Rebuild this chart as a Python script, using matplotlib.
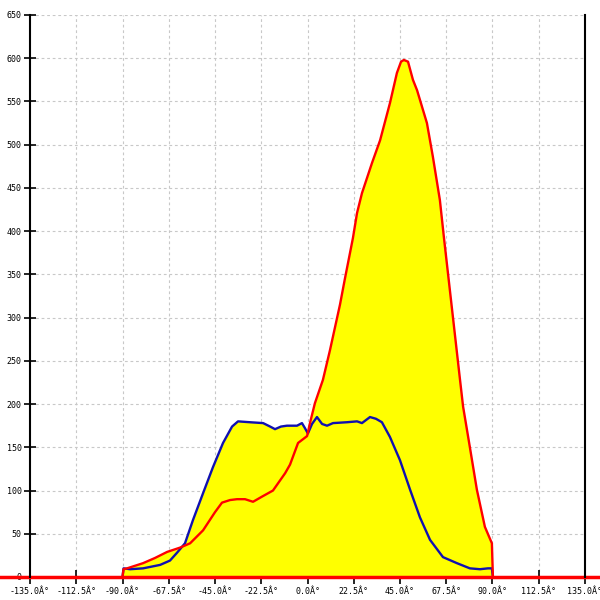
import numpy as np
import matplotlib
matplotlib.use("Agg")
import matplotlib.pyplot as plt

# angle (deg) and intensity
red_angle = [-90.0, -89.5, -87.8, -80.0, -74.2, -68.3, -62.0, -57.1, -50.8, -45.0,
             -41.6, -37.7, -34.3, -30.4, -26.5, -22.1, -16.8, -10.9, -8.5, -4.6,
             -0.2, 1.2, 3.6, 7.5, 10.9, 15.8, 18.2, 22.1, 24.1, 26.5,
             31.4, 35.3, 40.1, 43.5, 45.5, 46.9, 48.9, 51.3, 53.3, 58.1,
             61.0, 64.4, 66.4, 70.3, 74.2, 75.7, 79.0, 82.4, 86.3, 89.7, 90.2]
red_value = [0, 9, 10, 16, 22, 29, 34, 39, 54, 75,
             86, 89, 90, 90, 87, 93, 100, 120, 130, 155,
             163, 178, 201, 228, 262, 315, 345, 392, 421, 444,
             479, 505, 548, 583, 596, 598, 596, 575, 563, 525,
             486, 436, 392, 310, 228, 197, 150, 101, 58, 39, 0]

blue_angle = [-90.0, -89.5, -86.3, -80.0, -71.7, -66.9, -63.5, -59.6, -55.7, -50.8,
              -46.0, -41.1, -36.7, -33.8, -28.0, -21.6, -18.2, -15.8, -12.9, -10.0,
              -5.1, -2.7, -1.2, 0.2, 2.2, 4.6, 7.1, 9.5, 12.4, 19.2,
              24.1, 26.5, 30.4, 33.3, 36.2, 40.1, 45.0, 49.9, 54.7, 59.6,
              65.9, 72.7, 79.0, 83.9, 87.8, 89.7, 90.2]
blue_value = [0, 10, 9, 10, 14, 19, 28, 39, 66, 97,
              127, 155, 174, 180, 179, 178, 174, 171, 174, 175,
              175, 178, 172, 166, 177, 185, 177, 175, 178, 179,
              180, 178, 185, 183, 179, 162, 135, 101, 69, 43,
              23, 16, 10, 9, 10, 10, 0]

x_ticks = np.arange(-135, 135.1, 22.5)
y_ticks = np.arange(0, 651, 50)

fig = plt.figure(figsize=(6, 6), dpi=100)
ax = fig.add_axes([0, 23 / 600, 1, 562 / 600])
ax.set_xlim(-149.6, 142.3)
ax.set_ylim(0, 650)

# dashed grid only between the two axis lines
ax.hlines(y_ticks[1:], -135, 135, colors="#c8c8c8", linestyles=(0, (2.5, 2.5)), lw=0.8, zorder=1)
ax.vlines(x_ticks[1:-1], 0, 650, colors="#c8c8c8", linestyles=(0, (2.5, 2.5)), lw=0.8, zorder=1)

# yellow area under the higher of the two curves
grid_x = np.union1d(red_angle, blue_angle)
top = np.maximum(np.interp(grid_x, red_angle, red_value), np.interp(grid_x, blue_angle, blue_value))
ax.fill_between(grid_x, 0, top, color="#ffff00", lw=0, zorder=2)

ax.plot(blue_angle, blue_value, color="#1010b0", lw=1.7, zorder=3)
ax.axhline(0, color="#ff0000", lw=2.5, zorder=4, clip_on=False)
ax.plot(red_angle, red_value, color="#ff0000", lw=1.7, zorder=4)

for s in ["top", "bottom"]:
    ax.spines[s].set_visible(False)
ax.spines["left"].set_position(("data", -135))
ax.spines["right"].set_position(("data", 135))
for s in ["left", "right"]:
    ax.spines[s].set_linewidth(1.5)
    ax.spines[s].set_zorder(5)

ax.set_xticks(x_ticks)
ax.set_xticklabels([f"{v:.1f}Â°" for v in x_ticks], family="DejaVu Sans Mono", fontsize=6)
ax.set_yticks(y_ticks)
ax.set_yticklabels([str(v) for v in y_ticks], family="DejaVu Sans Mono", fontsize=6)
ax.tick_params(axis="x", direction="inout", length=10, width=1.2, pad=2)
ax.tick_params(axis="y", direction="inout", length=8, width=1.2, pad=2, right=False)

fig.savefig("out.png", dpi=100)
